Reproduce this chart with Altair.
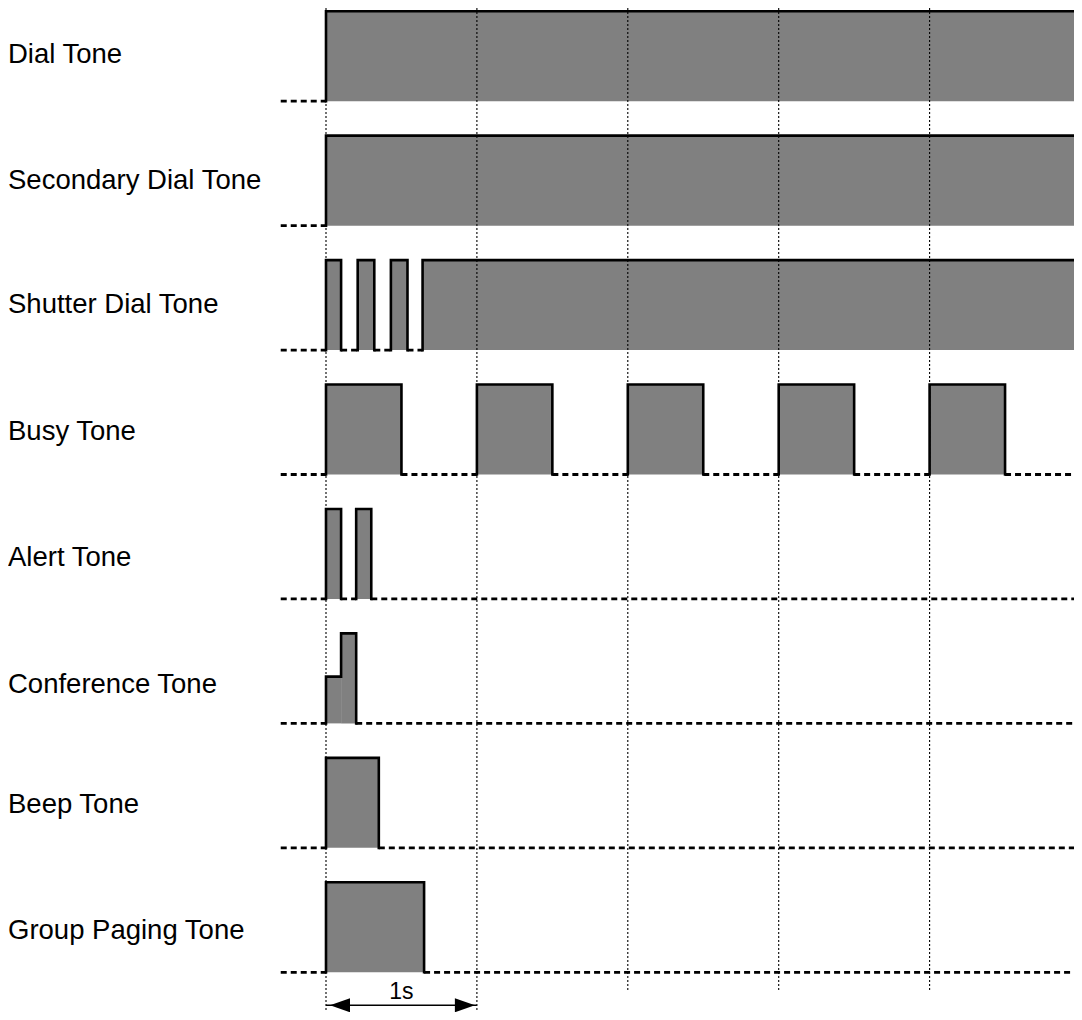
import altair as alt
import pandas as pd

# ---------------- data ----------------
TONE_NAMES = [
    "Dial Tone",
    "Secondary Dial Tone",
    "Shutter Dial Tone",
    "Busy Tone",
    "Alert Tone",
    "Conference Tone",
    "Beep Tone",
    "Group Paging Tone",
]

# on-segments per tone: (start [s], end [s], relative level 0..1)
DIAL = [(0.0, 5.0, 1.0)]
SECONDARY = [(0.0, 5.0, 1.0)]
SHUTTER = [(0.0, 0.1, 1.0), (0.21, 0.32, 1.0), (0.43, 0.54, 1.0), (0.64, 5.0, 1.0)]
BUSY = [(0.0, 0.5, 1.0), (1.0, 1.5, 1.0), (2.0, 2.5, 1.0), (3.0, 3.5, 1.0), (4.0, 4.5, 1.0)]
ALERT = [(0.0, 0.1, 1.0), (0.2, 0.3, 1.0)]
CONFERENCE = [(0.0, 0.1, 0.52), (0.1, 0.2, 1.0)]
BEEP = [(0.0, 0.35, 1.0)]
GROUP_PAGING = [(0.0, 0.65, 1.0)]
TONE_SEGMENTS = [DIAL, SECONDARY, SHUTTER, BUSY, ALERT, CONFERENCE, BEEP, GROUP_PAGING]

BASELINE_START = -0.3
BASELINE_END = 5.0
GRID_SECONDS = [0, 1, 2, 3, 4]
SCALE_BAR = (0.0, 1.0)
SCALE_LABEL = "1s"

# ---------------- layout / style ----------------
W, H = 1066, 1004
T0_PX = 318.0        # svg x of t = 0
PX_PER_S = 150.9
ROW0_PX = 93.2       # svg y of the first row's baseline
PITCH = 124.44       # px between row baselines
AMP = 90.0           # px height of a full-level tone
LABEL_RAISE = [38, 37, 37, 35, 33, 30.5, 35, 33.5]  # text baseline above row baseline (px)
GRID_TAIL = 18       # px below the last row where short gridlines end
ARROW_BELOW = 33     # px below last row baseline for the scale arrow
ARROW_TEXT_BELOW = 27
FONT = "Liberation Sans, Arial, Helvetica, sans-serif"
FILL = "#808080"


def yv(i, level=0.0, extra=0.0):
    return -i * PITCH + level * AMP + extra


last = len(TONE_NAMES) - 1
fills, outline, base, labels = [], [], [], []
for i, (name, segs) in enumerate(zip(TONE_NAMES, TONE_SEGMENTS)):
    for a, b, l in segs:
        fills.append(dict(tone=name, t0=a, t1=b, y0=yv(i), y1=yv(i, l)))
    bursts = []
    for seg in segs:
        if bursts and abs(bursts[-1][-1][1] - seg[0]) < 1e-9:
            bursts[-1].append(seg)
        else:
            bursts.append([seg])
    for bi, burst in enumerate(bursts):
        pts = [(burst[0][0], 0.0)]
        for a, b, l in burst:
            pts += [(a, l), (b, l)]
        if burst[-1][1] < BASELINE_END:
            pts.append((burst[-1][1], 0.0))
        for k, (t, l) in enumerate(pts):
            outline.append(dict(key=f"{i}-{bi}", k=k, t=t, y=yv(i, l)))
    cur = BASELINE_START
    for burst in bursts:
        if burst[0][0] > cur:
            base.append(dict(t0=cur, t1=burst[0][0], y=yv(i)))
        cur = burst[-1][1]
    if cur < BASELINE_END:
        base.append(dict(t0=cur, t1=BASELINE_END, y=yv(i)))
    labels.append(dict(label=name, y=yv(i, 0, LABEL_RAISE[i])))

grid = []
for g in GRID_SECONDS:
    bottom = (ROW0_PX - H) if SCALE_BAR[0] <= g <= SCALE_BAR[1] else yv(last, 0, -GRID_TAIL)
    grid.append(dict(t=g, ytop=ROW0_PX, ybot=bottom))

arrow_y = yv(last, 0, -ARROW_BELOW)
arrow = pd.DataFrame([dict(t0=SCALE_BAR[0], t1=SCALE_BAR[1], y=arrow_y)])
heads_l = pd.DataFrame([dict(t=SCALE_BAR[0], y=arrow_y)])
heads_r = pd.DataFrame([dict(t=SCALE_BAR[1], y=arrow_y)])
arrow_text = pd.DataFrame([dict(t=(SCALE_BAR[0] + SCALE_BAR[1]) / 2,
                                y=yv(last, 0, -ARROW_TEXT_BELOW), label=SCALE_LABEL)])

xscale = alt.Scale(domain=[-T0_PX / PX_PER_S, (W - T0_PX) / PX_PER_S], nice=False, zero=False)
yscale = alt.Scale(domain=[ROW0_PX - H, ROW0_PX], nice=False, zero=False)

fill_layer = alt.Chart(pd.DataFrame(fills)).mark_rect(color=FILL, strokeWidth=0).encode(
    x=alt.X("t0:Q", scale=xscale, axis=None), x2="t1:Q",
    y=alt.Y("y0:Q", scale=yscale, axis=None), y2="y1:Q",
)

grid_layer = alt.Chart(pd.DataFrame(grid)).mark_rule(
    color="#000000", strokeWidth=1.1, strokeDash=[2, 2]
).encode(
    x=alt.X("t:Q", scale=xscale, axis=None),
    y=alt.Y("ytop:Q", scale=yscale, axis=None), y2="ybot:Q",
)

base_layer = alt.Chart(pd.DataFrame(base)).mark_rule(
    color="black", strokeWidth=2.8, strokeDash=[6, 4]
).encode(
    x=alt.X("t0:Q", scale=xscale, axis=None), x2="t1:Q",
    y=alt.Y("y:Q", scale=yscale, axis=None),
)

outline_layer = alt.Chart(pd.DataFrame(outline)).mark_line(
    color="black", strokeWidth=2.6, strokeJoin="miter", strokeCap="square"
).encode(
    x=alt.X("t:Q", scale=xscale, axis=None),
    y=alt.Y("y:Q", scale=yscale, axis=None),
    detail="key:N",
    order=alt.Order("k:Q"),
)

label_layer = alt.Chart(pd.DataFrame(labels)).mark_text(
    align="left", baseline="alphabetic", font=FONT, fontSize=27.5, color="black"
).encode(
    x=alt.value(0),
    y=alt.Y("y:Q", scale=yscale, axis=None),
    text="label:N",
)

shaft_layer = alt.Chart(arrow).mark_rule(color="black", strokeWidth=1.5).encode(
    x=alt.X("t0:Q", scale=xscale, axis=None), x2="t1:Q",
    y=alt.Y("y:Q", scale=yscale, axis=None),
)

head_l_layer = alt.Chart(heads_l).mark_point(
    shape="M0.4,0L2.4,-0.7L2.4,0.7Z", size=400, filled=True, color="black",
    opacity=1, strokeWidth=0
).encode(
    x=alt.X("t:Q", scale=xscale, axis=None),
    y=alt.Y("y:Q", scale=yscale, axis=None),
)

head_r_layer = alt.Chart(heads_r).mark_point(
    shape="M-0.2,0L-2.2,-0.7L-2.2,0.7Z", size=400, filled=True, color="black",
    opacity=1, strokeWidth=0
).encode(
    x=alt.X("t:Q", scale=xscale, axis=None),
    y=alt.Y("y:Q", scale=yscale, axis=None),
)

arrow_text_layer = alt.Chart(arrow_text).mark_text(
    align="center", baseline="alphabetic", font=FONT, fontSize=23, color="black"
).encode(
    x=alt.X("t:Q", scale=xscale, axis=None),
    y=alt.Y("y:Q", scale=yscale, axis=None),
    text="label:N",
)

chart = alt.layer(
    fill_layer, grid_layer, base_layer, outline_layer, label_layer,
    shaft_layer, head_l_layer, head_r_layer, arrow_text_layer,
).properties(
    width=W, height=H, padding=0, autosize="none", background="white"
).configure_view(stroke=None)

chart.save("out.html", embed_options={"renderer": "svg", "actions": False})
